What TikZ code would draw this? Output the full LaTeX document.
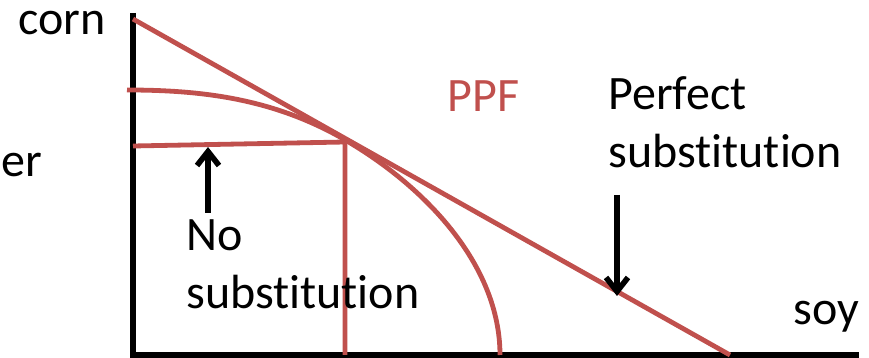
\documentclass[tikz,border=0pt]{standalone}
\usepackage{fontspec}
\setmainfont[Ligatures=NoCommon]{Carlito}
\usetikzlibrary{arrows.meta}
\definecolor{ppfred}{RGB}{192,80,77}
\begin{document}
\begin{tikzpicture}[
			x=0.5pt, y=-0.5pt,
			axis/.style={line width=2.7pt, black},
			ppf/.style={line width=2.4pt, ppfred},
			pointer/.style={line width=2.8pt, -{Straight Barb[length=7pt,width=11pt]}},
			label/.style={font=\fontsize{24}{29}\selectfont, inner sep=0pt, anchor=base west}
		]
		\useasboundingbox (0,0) rectangle (869,358);
		% axes
		\coordinate (origin) at (133,355);
		\coordinate (ytop) at (133,13);
		\coordinate (xend) at (859,355);
		\draw[axis] (ytop) -- (origin) -- (xend);
		% frontiers
		\coordinate (cornmax) at (133,19);
		\coordinate (soymax) at (730,355);
		\coordinate (touch) at (340,137);
		\coordinate (curvetop) at (127,90);
		\coordinate (curvebot) at (500,355);
		\coordinate (lstart) at (133,146);
		\coordinate (corner) at (345,142);
		\coordinate (lfoot) at (345,355);
		\draw[ppf] (cornmax) -- (soymax);
		\draw[ppf] (curvetop) .. controls (200,90) and (270,98) .. (touch)
			.. controls (425,185) and (500,265) .. (curvebot);
		\draw[ppf] (lstart) -- (corner) -- (lfoot);
		% labels
		\node[label] (corn) at (18,35) {corn};
		\node[label] (er) at (1,177) {er};
		\node[label, text=ppfred] (ppf) at (447,112) {PPF};
		\node[label] (perfect) at (608,110) {Perfect};
		\node[label] (perfsub) at (608,168) {substitution};
		\node[label] (no) at (186,250) {No};
		\node[label] (nosub) at (186,308) {substitution};
		\node[label] (soy) at (793,325) {soy};
		% pointers
		\coordinate (nofrom) at (208,213);
		\coordinate (noto) at (208,147);
		\coordinate (perffrom) at (617,195);
		\coordinate (perfto) at (617,296);
		\draw[pointer] (nofrom) -- (noto);
		\draw[pointer] (perffrom) -- (perfto);
	\end{tikzpicture}
\end{document}
